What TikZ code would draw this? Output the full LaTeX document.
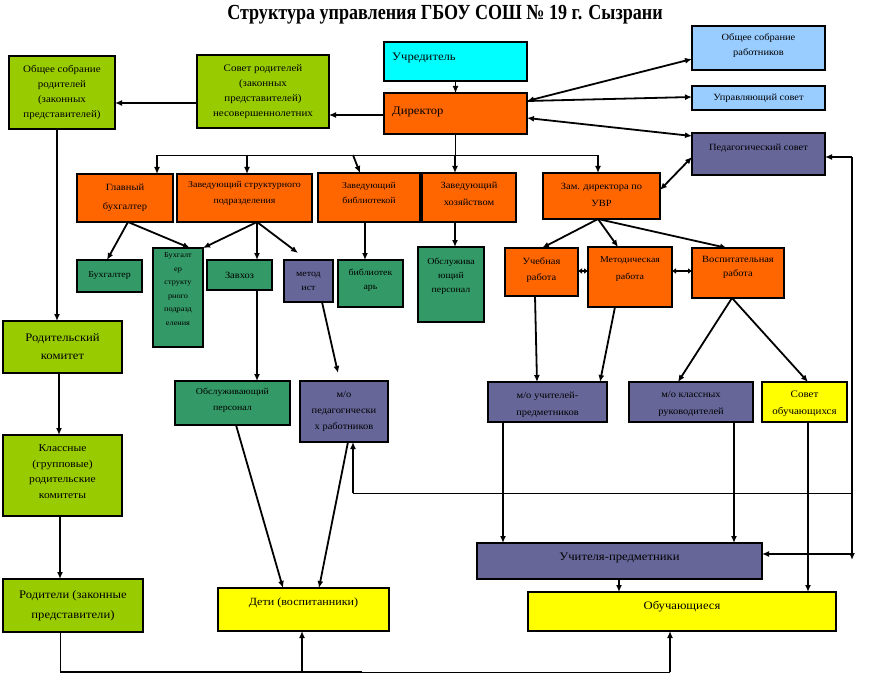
\documentclass[tikz,border=0pt]{standalone}
\usepackage{fontspec}
\setmainfont{Liberation Serif}
\newfontfamily\bxfont[FakeStretch=1.1]{Liberation Serif}
\newfontfamily\ttlfont[FakeStretch=0.84]{Liberation Serif}
\usetikzlibrary{arrows.meta}
\definecolor{cLime}{HTML}{99CC00}
\definecolor{cOrange}{HTML}{FF6600}
\definecolor{cCyan}{HTML}{00FFFF}
\definecolor{cSky}{HTML}{99CCFF}
\definecolor{cPurple}{HTML}{666699}
\definecolor{cTeal}{HTML}{339966}
\definecolor{cYellow}{HTML}{FFFF00}
\newcommand\fz[2]{\bxfont\fontsize{#1}{#2}\selectfont}
\newcommand\bx[9]{%
  \pgfmathsetmacro\bxw{#5-#3}\pgfmathsetmacro\bxh{#6-#4}%
  \pgfmathsetmacro\bxcx{(#3+#5)/2}\pgfmathsetmacro\bxcy{(#4+#6)/2}%
  \node[box,fill=#2,minimum width=\bxw pt,minimum height=\bxh pt] (#1) at (\bxcx,\bxcy) {};%
  \node[lbl,font=#8,#7] (#1-t) at (\bxcx,\bxcy) {#9};}
\tikzset{
  box/.style={draw=black,line width=1.1pt,inner sep=0pt,outer sep=0pt},
  lbl/.style={align=center,inner sep=0pt,text=black},
  tip/.style={-{Latex[length=7pt,width=6pt]}},
  arT/.style={line width=1.8pt,tip},
  arM/.style={line width=1.1pt,tip},
  dbl/.style={line width=1.8pt,{Latex[length=7pt,width=6pt]}-{Latex[length=7pt,width=6pt]}},
  dbls/.style={line width=1.8pt,{Latex[length=4pt,width=6pt]}-{Latex[length=4pt,width=6pt]}},
  ln/.style={line width=0.8pt},
  lnT/.style={line width=1.8pt},
}
\begin{document}
\begin{tikzpicture}[x=1pt,y=-1pt]
\fill[white] (0,0) rectangle (888,687);
\useasboundingbox (0,0) rectangle (888,687);
\node[font=\ttlfont\bfseries\fontsize{21.5}{25}\selectfont] (title) at (445,14.5) {Структура управления ГБОУ СОШ №~19 г. Сызрани};
% top row
\bx{osr}{cLime}{9}{56}{115}{129}{}{\fz{10}{15}}{Общее собрание\\родителей\\(законных\\представителей)}
\bx{srn}{cLime}{197}{55}{329}{128}{}{\fz{10}{15}}{Совет родителей\\(законных\\представителей)\\несовершеннолетних}
\bx{uch}{cCyan}{384}{42}{527}{81}{anchor=west,xshift=-63.5pt,yshift=3.5pt}{\fz{11.5}{14}}{Учредитель}
\bx{dir}{cOrange}{384}{93}{527}{134}{anchor=west,xshift=-63.5pt,yshift=1.5pt}{\fz{11.5}{14}}{Директор}
\bx{osw}{cSky}{692}{26}{825}{70}{yshift=2.5pt}{\fz{9.5}{15}}{Общее собрание\\работников}
\bx{ups}{cSky}{692}{86}{825}{110}{}{\fz{9.5}{14}}{Управляющий совет}
\bx{ped}{cPurple}{692}{133}{825}{175}{yshift=6pt}{\fz{9.5}{14}}{Педагогический совет}
% second row
\bx{gb}{cOrange}{77}{174}{173}{222}{}{\fz{9.5}{19}}{Главный\\бухгалтер}
\bx{zsp}{cOrange}{177}{174}{312}{222}{yshift=4.5pt}{\fz{9}{16}}{Заведующий структурного\\подразделения}
\bx{zb}{cOrange}{318}{173}{420}{222}{yshift=5pt}{\fz{9}{15}}{Заведующий\\библиотекой}
\bx{zh}{cOrange}{422}{173}{516}{222}{yshift=4pt}{\fz{9.5}{17}}{Заведующий\\хозяйством}
\bx{zam}{cOrange}{543}{173}{660}{219}{yshift=1.5pt}{\fz{9.5}{17}}{Зам. директора по\\УВР}
% third row
\bx{buh}{cTeal}{77}{260}{142}{292}{}{\fz{9}{12}}{Бухгалтер}
\bx{bsp}{cTeal}{153}{248}{203}{347}{yshift=8.5pt}{\fz{7.5}{13.5}}{Бухгалт\\ер\\структу\\рного\\подразд\\еления}
\bx{zvh}{cTeal}{207}{260}{272}{290}{}{\fz{9.5}{12}}{Завхоз}
\bx{met}{cPurple}{284}{260}{333}{302}{}{\fz{9}{14}}{метод\\ист}
\bx{bib}{cTeal}{338}{260}{403}{307}{yshift=3.5pt}{\fz{9}{14}}{библиотек\\арь}
\bx{obp1}{cTeal}{418}{247}{484}{322}{yshift=8pt}{\fz{9}{14}}{Обслужива\\ющий\\персонал}
\bx{ucr}{cOrange}{505}{248}{578}{296}{yshift=2pt}{\fz{9.5}{16}}{Учебная\\работа}
\bx{mr}{cOrange}{588}{247}{672}{307}{yshift=7.5pt}{\fz{9}{17}}{Методическая\\работа}
\bx{vr}{cOrange}{692}{248}{784}{298}{yshift=5.5pt}{\fz{9.5}{14}}{Воспитательная\\работа}
% fourth row
\bx{obp2}{cTeal}{175}{381}{290}{425}{yshift=3pt}{\fz{9}{16}}{Обслуживающий\\персонал}
\bx{mop}{cPurple}{300}{381}{388}{442}{}{\fz{9.5}{16}}{м/о\\педагогически\\х работников}
\bx{mou}{cPurple}{488}{382}{607}{422}{yshift=-2.5pt}{\fz{9.5}{17}}{м/о учителей-\\предметников}
\bx{mok}{cPurple}{629}{382}{753}{422}{yshift=-2pt}{\fz{9.5}{17}}{м/о классных\\руководителей}
\bx{so}{cYellow}{762}{382}{847}{422}{yshift=-1.5pt}{\fz{10}{17}}{Совет\\обучающихся}
% left column
\bx{rk}{cLime}{3}{321}{122}{373}{}{\fz{11.5}{18}}{Родительский\\комитет}
\bx{krk}{cLime}{3}{435}{122}{516}{yshift=4pt}{\fz{10.5}{15.5}}{Классные\\(групповые)\\родительские\\комитеты}
\bx{rod}{cLime}{3}{579}{143}{632}{}{\fz{11.5}{20}}{Родители (законные\\представители)}
% bottom
\bx{deti}{cYellow}{218}{588}{389}{631}{yshift=6.5pt}{\fz{11}{14}}{Дети (воспитанники)}
\bx{uchp}{cPurple}{477}{543}{762}{579}{yshift=3pt}{\fz{11.5}{14}}{Учителя-предметники}
\bx{obu}{cYellow}{528}{592}{836}{631}{yshift=4.5pt}{\fz{11.5}{14}}{Обучающиеся}
% ---------- connectors ----------
\draw[arM] (uch.south) -- (dir.north);
\draw[arM] (dir.west |- 0,115) -- (srn.east |- 0,115);
\draw[arT] (srn.west |- 0,103) -- (osr.east |- 0,103);
\draw[dbl] (dir.east |- 0,101) -- (osw.west |- 0,59);
\draw[arT] (dir.east |- 0,101) -- (ups.west |- 0,97);
\draw[dbl] (dir.east |- 0,118) -- (ped.west |- 0,136);
% bus
\coordinate (busL) at (157,155);
\coordinate (busR) at (598,155);
\draw[ln] (dir.south) -- (dir.south |- busL);
\draw[ln] (busL) -- (busR);
\draw[arT] (busL) -- (gb.north -| busL);
\draw[arT] (busL -| 247,0) -- (zsp.north -| 247,0);
\draw[arT] (busL -| 353,0) -- (zb.north -| 360,0);
\draw[arT] (busL -| 455,0) -- (zh.north -| 455,0);
\draw[arT] (busR) -- (zam.north -| busR);
\draw[dbl] (zam.east |- 0,190) -- (ped.west |- 0,157);
% fans of row 2
\draw[arT] (gb.south -| 128,0) -- (buh.north -| 107,0);
\draw[arT] (gb.south -| 128,0) -- (bsp.north -| 190,0);
\coordinate (metTip) at (298,253);
\draw[arT] (zsp.south -| 257,0) -- (bsp.north east);
\draw[arT] (zsp.south -| 257,0) -- (zvh.north -| 257,0);
\draw[arT] (zsp.south -| 257,0) -- (metTip);
\draw[arT] (zb.south -| 365,0) -- (bib.north -| 365,0);
\draw[arT] (zh.south -| 455,0) -- (obp1.north -| 455,0);
\draw[arT] (zam.south -| 598,0) -- (ucr.north -| 542,0);
\draw[arT] (zam.south -| 598,0) -- (mr.north -| 618,0);
\draw[arT] (zam.south -| 598,0) -- (vr.north -| 727,0);
\draw[dbls] (ucr.east |- 0,271) -- (mr.west |- 0,271);
\draw[dbls] (mr.east |- 0,271) -- (vr.west |- 0,271);
% to row 4
\draw[arT] (ucr.south -| 535,0) -- (mou.north -| 537,0);
\draw[arT] (mr.south -| 615,0) -- (mou.north -| 600,0);
\draw[arT] (vr.south -| 732,0) -- (mok.north -| 678,0);
\draw[arT] (vr.south -| 732,0) -- (so.north -| 808,0);
\draw[arT] (zvh.south -| 257,0) -- (obp2.north -| 257,0);
\coordinate (mopTip) at (338,373);
\draw[arT] (met.south -| 322,0) -- (mopTip);
% to children
\draw[arT] (obp2.south -| 236,0) -- (deti.north -| 283,0);
\draw[arT] (mop.south -| 348,0) -- (deti.north -| 319,0);
% right side
\coordinate (rTop) at (852,157);
\coordinate (rBot) at (852,560);
\coordinate (rMid) at (852,493);
\coordinate (rU) at (852,554);
\coordinate (mMid) at (353,493);
\draw[arT] (rTop) -- (ped.east |- rTop);
\draw[arT] (rTop) -- (rBot);
\draw[arT] (rU) -- (uchp.east |- rU);
\draw[ln] (rMid) -- (mMid);
\draw[arT] (mMid) -- (mop.south -| mMid);
\draw[arT] (mou.south -| 503,0) -- (uchp.north -| 503,0);
\draw[arT] (mok.south -| 734,0) -- (uchp.north -| 734,0);
\draw[arT] (so.south -| 808,0) -- (obu.north -| 808,0);
\draw[arT] (uchp.south -| 619,0) -- (obu.north -| 619,0);
% left column
\draw[arT] (osr.south -| 57,0) -- (rk.north -| 57,0);
\draw[arT] (rk.south -| 59,0) -- (krk.north -| 59,0);
\draw[arT] (krk.south -| 60,0) -- (rod.north -| 60,0);
\coordinate (b1) at (60,672);
\coordinate (b2) at (302,672);
\coordinate (b3) at (362,672);
\coordinate (b4) at (670,672);
\draw[ln] (rod.south -| b1) -- (b1);
\draw[lnT] (b1) -- (b3);
\draw[ln] (b3) -- (b4);
\draw[arT] (b2) -- (deti.south -| b2);
\draw[arT] (b4) -- (obu.south -| b4);
\end{tikzpicture}
\end{document}
